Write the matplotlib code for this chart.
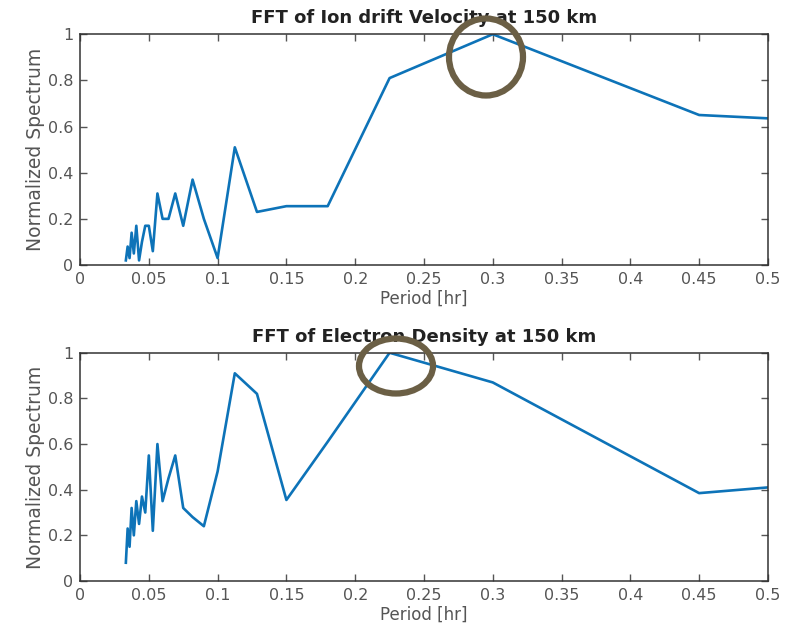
import matplotlib.pyplot as plt
from matplotlib.patches import Ellipse

plt.rcParams['font.family'] = ['DejaVu Sans']

# FFT periods [hr] (0.9/k, k = 1..27)
period = [0.9, 0.45, 0.3, 0.225, 0.18, 0.15, 0.1286, 0.1125, 0.1, 0.09,
          0.0818, 0.075, 0.0692, 0.0643, 0.06, 0.05625, 0.0529, 0.05,
          0.0474, 0.045, 0.0429, 0.0409, 0.0391, 0.0375, 0.036, 0.0346, 0.0333]

ion_vel = [0.52, 0.65, 1.0, 0.81, 0.255, 0.255, 0.23, 0.51, 0.03, 0.20,
           0.37, 0.17, 0.31, 0.20, 0.20, 0.31, 0.06, 0.17,
           0.17, 0.10, 0.02, 0.17, 0.05, 0.14, 0.03, 0.08, 0.02]

e_dens = [0.61, 0.385, 0.87, 1.0, 0.61, 0.355, 0.82, 0.91, 0.48, 0.24,
          0.28, 0.32, 0.55, 0.45, 0.35, 0.60, 0.22, 0.55,
          0.30, 0.37, 0.25, 0.35, 0.20, 0.32, 0.15, 0.23, 0.08]

titles = ['FFT of Ion drift Velocity at 150 km', 'FFT of Electron Density at 150 km']
series = [ion_vel, e_dens]

fig = plt.figure(figsize=(7.98, 6.34), dpi=100)
ax1 = fig.add_axes([0.1003, 0.582, 0.862, 0.364])
ax2 = fig.add_axes([0.1003, 0.0836, 0.862, 0.36])

for ax, y, t in zip([ax1, ax2], series, titles):
    ax.plot(period, y, color=(0.05, 0.45, 0.72), lw=1.9)
    ax.set_xlim(0, 0.5)
    ax.set_ylim(0, 1)
    ax.set_xticks([0, 0.05, 0.1, 0.15, 0.2, 0.25, 0.3, 0.35, 0.4, 0.45, 0.5])
    ax.set_xticklabels(['0', '0.05', '0.1', '0.15', '0.2', '0.25', '0.3',
                        '0.35', '0.4', '0.45', '0.5'])
    ax.set_yticks([0, 0.2, 0.4, 0.6, 0.8, 1])
    ax.set_yticklabels(['0', '0.2', '0.4', '0.6', '0.8', '1'])
    ax.tick_params(direction='in', top=True, right=True, length=5,
                   labelsize=11.5, colors='#555555', width=1, pad=5)
    for s in ax.spines.values():
        s.set_color('#333333')
        s.set_linewidth(1.1)
    ax.set_title(t, fontsize=13, fontweight='bold', color='#222222', pad=8)
    ax.set_xlabel('Period [hr]', fontsize=12, color='#555555', labelpad=2)
    ax.set_ylabel('Normalized Spectrum', fontsize=13.5, color='#555555', labelpad=2)

# highlight circles around the peaks
W, H = 798, 634
for cx, cy, w, h in [(486, 57, 74, 77), (396, 366, 74, 55)]:
    e = Ellipse((cx / W, 1 - cy / H), w / W, h / H, transform=fig.transFigure,
                fill=False, edgecolor='#6b5f45', lw=4.5, zorder=10)
    fig.patches.append(e)

plt.savefig('out.png', dpi=100)
